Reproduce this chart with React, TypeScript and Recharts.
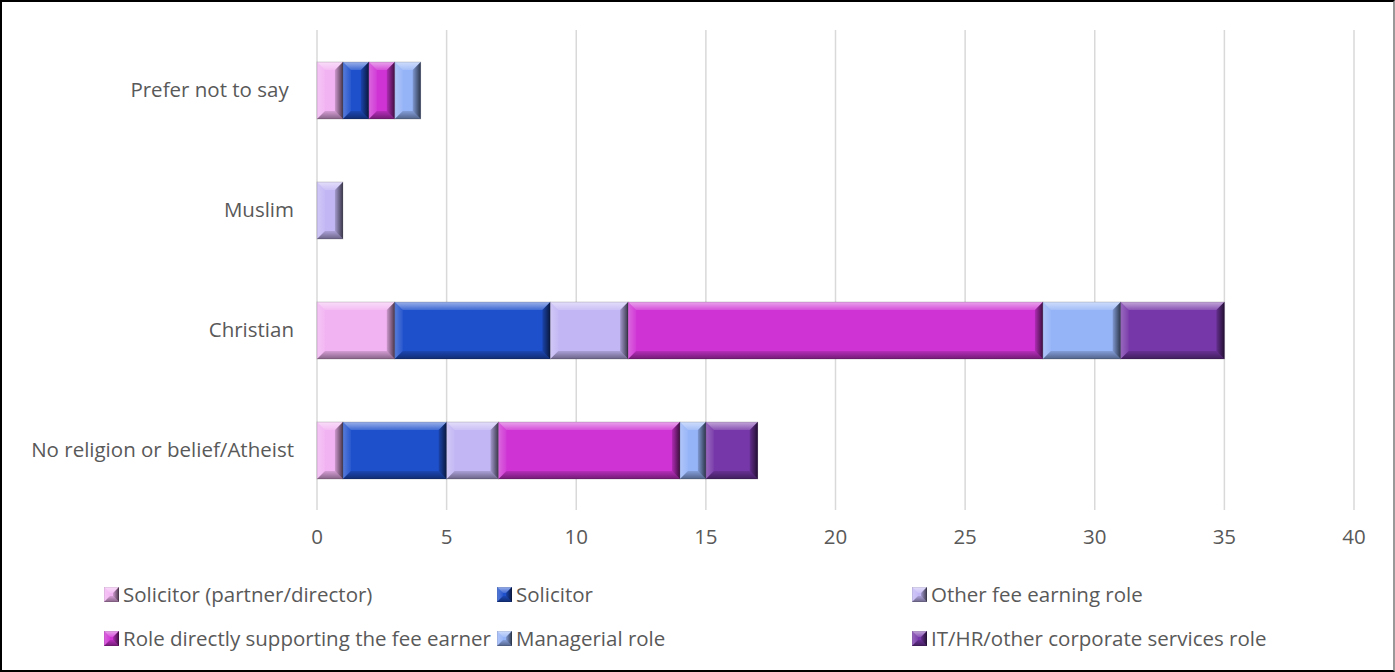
import { Bar, BarChart, CartesianGrid, XAxis, YAxis } from "recharts";

// Headcount by religion/belief, split by role. Excel-style bevelled stacked bars.

const religions = ["Prefer not to say ", "Muslim", "Christian", "No religion or belief/Atheist"];
const partner = [1, 0, 3, 1];
const solicitor = [1, 0, 6, 4];
const otherFee = [0, 1, 3, 2];
const support = [1, 0, 16, 7];
const managerial = [1, 0, 3, 1];
const corporate = [0, 0, 4, 2];
const xTicks = [0, 5, 10, 15, 20, 25, 30, 35, 40];

const SERIES = [
  { key: "partner", name: "Solicitor (partner/director)", color: "#F2B3F2", values: partner },
  { key: "solicitor", name: "Solicitor", color: "#1F50CC", values: solicitor },
  { key: "otherFee", name: "Other fee earning role", color: "#C2B6F4", values: otherFee },
  { key: "support", name: "Role directly supporting the fee earner", color: "#CF33D4", values: support },
  { key: "managerial", name: "Managerial role", color: "#95B3F7", values: managerial },
  { key: "corporate", name: "IT/HR/other corporate services role", color: "#7637A8", values: corporate },
];

const data = religions.map((name, i) => {
  const row: Record<string, string | number> = { name };
  SERIES.forEach((s) => (row[s.key] = s.values[i]));
  return row;
});

const FONT = "'Open Sans', sans-serif";
const FS = 20.5;
const TEXT = "#595959";
const GRID = "#D9D9D9";

// legend is laid out like Excel's: three fixed columns, two rows
const LEGEND_COLS = [104, 497, 912];
const LEGEND_ROWS = [594, 638];

// shared gradients for the bevel faces (objectBoundingBox, so one set serves every bar)
function BevelDefs() {
  return (
    <svg width={0} height={0} style={{ position: "absolute" }}>
      <defs>
        <linearGradient id="bv-top" x1="0" y1="0" x2="0" y2="1">
          <stop offset="0" stopColor="#fff" stopOpacity={0.55} />
          <stop offset="1" stopColor="#fff" stopOpacity={0.15} />
        </linearGradient>
        <linearGradient id="bv-left" x1="0" y1="0" x2="1" y2="0">
          <stop offset="0" stopColor="#fff" stopOpacity={0.25} />
          <stop offset="1" stopColor="#fff" stopOpacity={0.05} />
        </linearGradient>
        <linearGradient id="bv-right" x1="0" y1="0" x2="1" y2="0">
          <stop offset="0" stopColor="#000" stopOpacity={0.15} />
          <stop offset="1" stopColor="#000" stopOpacity={0.7} />
        </linearGradient>
        <linearGradient id="bv-bottom" x1="0" y1="0" x2="0" y2="1">
          <stop offset="0" stopColor="#000" stopOpacity={0.12} />
          <stop offset="1" stopColor="#000" stopOpacity={0.45} />
        </linearGradient>
      </defs>
    </svg>
  );
}

function bevel(x: number, y: number, w: number, h: number, fill: string, b0 = 8) {
  if (!(w > 0) || !(h > 0)) return null;
  const b = Math.min(b0, w / 2, h / 2);
  const x2 = x + w;
  const y2 = y + h;
  return (
    <g>
      <rect x={x} y={y} width={w} height={h} fill={fill} />
      <polygon points={`${x},${y} ${x2},${y} ${x2 - b},${y + b} ${x + b},${y + b}`} fill="url(#bv-top)" />
      <polygon points={`${x},${y} ${x + b},${y + b} ${x + b},${y2 - b} ${x},${y2}`} fill="url(#bv-left)" />
      <polygon points={`${x2},${y} ${x2},${y2} ${x2 - b},${y2 - b} ${x2 - b},${y + b}`} fill="url(#bv-right)" />
      <polygon points={`${x},${y2} ${x + b},${y2 - b} ${x2 - b},${y2 - b} ${x2},${y2}`} fill="url(#bv-bottom)" />
      <rect x={x} y={y} width={w} height={h} fill="none" stroke="#000" strokeOpacity={0.2} strokeWidth={0.8} />
    </g>
  );
}

function BevelBar(props: any) {
  const { x, y, width, height, fill } = props;
  return bevel(x, y, width, height, fill);
}

function CategoryTick(props: any) {
  const { x, y, payload } = props;
  return (
    <text
      x={x}
      y={y}
      dy="0.35em"
      textAnchor="end"
      fill={TEXT}
      fontSize={FS}
      fontFamily={FONT}
      xmlSpace="preserve"
      style={{ whiteSpace: "pre" }}
    >
      {payload.value}
    </text>
  );
}

export default function App() {
  return (
    <div
      style={{
        position: "absolute",
        left: 0,
        top: 0,
        width: 1395,
        height: 672,
        boxSizing: "border-box",
        border: "2px solid #000",
        borderRightColor: "#999",
        background: "#fff",
        overflow: "hidden",
      }}
    >
      <BevelDefs />
      <div style={{ position: "absolute", left: -2, top: -2 }}>
        <BarChart
          width={1395}
          height={672}
          data={data}
          layout="vertical"
          margin={{ top: 30, right: 41, left: 0, bottom: 0 }}
          barSize={57}
        >
          <CartesianGrid horizontal={false} stroke={GRID} strokeWidth={1.5} />
          <XAxis
            type="number"
            domain={[0, 40]}
            ticks={xTicks}
            height={162}
            axisLine={false}
            tickLine={false}
            tickMargin={13}
            tick={{ fill: TEXT, fontSize: FS, fontFamily: FONT }}
            interval={0}
          />
          <YAxis
            type="category"
            dataKey="name"
            width={317}
            axisLine={false}
            tickLine={false}
            tickMargin={17}
            tick={<CategoryTick />}
            interval={0}
          />
          {SERIES.map((s) => (
            <Bar
              key={s.key}
              dataKey={s.key}
              name={s.name}
              stackId="a"
              fill={s.color}
              shape={<BevelBar />}
              isAnimationActive={false}
            />
          ))}
        </BarChart>
        {SERIES.map((s, i) => (
          <div
            key={s.key}
            style={{
              position: "absolute",
              left: LEGEND_COLS[i % 3],
              top: LEGEND_ROWS[Math.floor(i / 3)] - 14,
              height: 28,
              display: "flex",
              alignItems: "center",
              fontFamily: FONT,
              fontSize: FS,
              color: TEXT,
              whiteSpace: "nowrap",
            }}
          >
            <svg width={15} height={15} style={{ marginRight: 4 }}>
              {bevel(0, 0, 15, 15, s.color, 6)}
            </svg>
            {s.name}
          </div>
        ))}
      </div>
    </div>
  );
}
